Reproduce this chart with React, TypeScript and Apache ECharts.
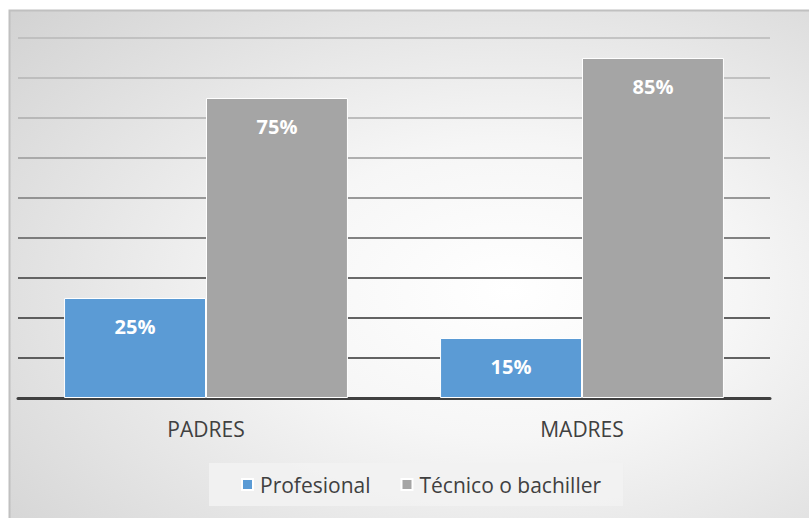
import React, { useEffect, useRef } from "react";
import * as echarts from "echarts";

const categories = ["PADRES", "MADRES"];
const seriesNames = ["Profesional", "Técnico o bachiller"];
const profesional = [25, 15];
const tecnico = [75, 85];
const gridColors = ["#303030", "#303030", "#303030", "#3a3a3a", "#5a5a5a", "#7a7a7a", "#989898", "#acacac", "#b4b4b4", "#b8b8b8"];

export default function App() {
  const ref = useRef<HTMLDivElement>(null);
  useEffect(() => {
    const chart = echarts.init(ref.current!, null, { renderer: "svg" });
    const font = "'Open Sans', sans-serif";
    const label = {
      show: true,
      position: "insideTop",
      distance: 18,
      color: "#ffffff",
      fontWeight: "bold",
      fontSize: 20,
      fontFamily: font,
      formatter: (p: any) => p.value + "%",
    };
    chart.setOption({
      animation: false,
      graphic: [
        {
          type: "rect",
          z: -10,
          silent: true,
          shape: { x: 9.5, y: 10.5, width: 805, height: 510 },
          style: {
            fill: new echarts.graphic.RadialGradient(0.62, 0.55, 1.15, [
              { offset: 0, color: "#ffffff" },
              { offset: 0.25, color: "#f6f6f6" },
              { offset: 1, color: "#bdbdbd" },
            ]),
            stroke: "#c0c0c0",
            lineWidth: 2,
          },
        },
      ],
      grid: { left: 18, right: 39, top: 38, bottom: 120, containLabel: false },
      legend: {
        data: seriesNames,
        left: 209,
        top: 463,
        orient: "horizontal",
        backgroundColor: "rgba(242,242,242,0.9)",
        padding: [11, 22, 11, 32],
        itemWidth: 11,
        itemHeight: 11,
        itemGap: 30,
        icon: "rect",
        textStyle: { color: "#404040", fontSize: 21, fontFamily: font, padding: [0, 0, 0, 2] },
      },
      xAxis: {
        type: "category",
        data: categories,
        axisLine: { show: true, lineStyle: { color: "#404040", width: 3 } },
        axisTick: { show: false },
        axisLabel: { color: "#404040", fontSize: 21, fontFamily: font, margin: 20 },
      },
      yAxis: {
        type: "value",
        min: 0,
        max: 90,
        interval: 10,
        axisLabel: { show: false },
        axisLine: { show: false },
        axisTick: { show: false },
        splitLine: { show: true, lineStyle: { color: gridColors, width: 1.5 } },
      },
      series: [
        {
          name: seriesNames[0],
          type: "bar",
          data: profesional,
          barGap: "0%",
          barCategoryGap: "24.5%",
          itemStyle: { color: "#5b9bd5", borderColor: "#ffffff", borderWidth: 1 },
          label,
        },
        {
          name: seriesNames[1],
          type: "bar",
          data: tecnico,
          itemStyle: { color: "#a5a5a5", borderColor: "#ffffff", borderWidth: 1 },
          label,
        },
      ],
    });
    return () => chart.dispose();
  }, []);
  return (
    <div
      ref={ref}
      style={{ position: "absolute", left: 0, top: 0, width: 809, height: 518, background: "#ffffff" }}
    />
  );
}
